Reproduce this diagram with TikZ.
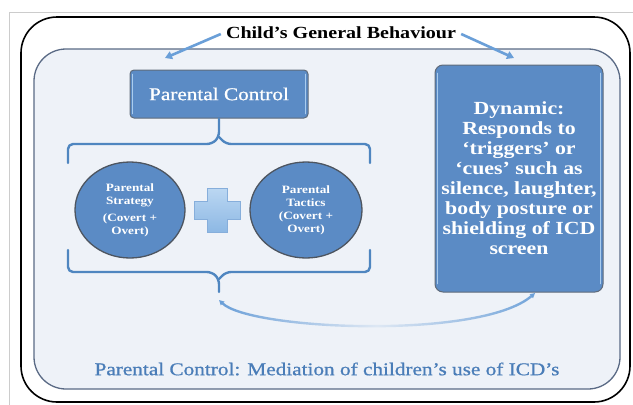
\documentclass[tikz,border=0pt]{standalone}
\usepackage{fontspec}
\setmainfont{Liberation Serif}
\newfontfamily\wserif[FakeStretch=1.18]{Liberation Serif}
\newfontfamily\wserifreg[FakeStretch=1.18,FakeBold=0.8]{Liberation Serif}
\usetikzlibrary{arrows.meta,fadings,shapes.geometric}
\definecolor{panelbg}{HTML}{EEF2F8}
\definecolor{panelline}{HTML}{5A6A85}
\definecolor{boxblue}{HTML}{5B8BC5}
\definecolor{boxline}{HTML}{5F6B7A}
\definecolor{boxhi}{HTML}{A9CCEE}
\definecolor{bracecol}{HTML}{4F86C0}
\definecolor{textblue}{HTML}{4A7DB8}
\definecolor{arrowblue}{HTML}{6A9FD8}
\definecolor{plustop}{HTML}{BBD7F2}
\definecolor{plusbot}{HTML}{8DB8E4}
\definecolor{plusline}{HTML}{86AEDB}
\definecolor{ellline}{HTML}{4D5560}
\tikzfading[name=midfade, left color=transparent!0, right color=transparent!5, middle color=transparent!88]
\begin{document}
\begin{tikzpicture}[x=1pt,y=-1pt,
  pcbox/.style={rectangle, rounded corners=4pt, fill=boxblue, draw=boxline, line width=1pt,
    text=white, inner sep=0pt},
  hiline/.style={draw=boxhi, line width=1.6pt, line cap=round},
  ellnode/.style={ellipse, fill=boxblue, draw=ellline, line width=1.3pt, text=white,
    inner sep=0pt, align=center, font=\wserif\bfseries\fontsize{11.2}{13}\selectfont},
  bracepath/.style={draw=bracecol, line width=2.4pt, line cap=round, line join=round, rounded corners=5pt},
  tarrow/.style={draw=arrowblue, line width=2.6pt, -{Triangle[length=7pt,width=8pt]}},
  conn/.style={draw=arrowblue, line width=2.4pt, path fading=midfade,
    {Triangle[length=5pt,width=5pt]}-{Triangle[length=5pt,width=5pt]}}
]
\useasboundingbox (0,0) rectangle (633,405);
% image frame
\draw[gray!40, line width=0.8pt] (9,405) -- (9,12) -- (633,12);
% outer and inner panels
\draw[line width=1.6pt, fill=white, rounded corners=36pt] (21,17) rectangle (630,402);
\draw[draw=panelline, line width=1.3pt, fill=panelbg, rounded corners=32pt] (34,49) rectangle (620,389);

% title
\node[font=\wserif\bfseries\fontsize{17}{20}\selectfont, inner sep=2pt] (title) at (341,33) {Child’s General Behaviour};
\coordinate (ta1) at (165,58);
\coordinate (ta2) at (514,58);
\draw[tarrow] ([xshift=-3pt,yshift=-1pt]title.west) -- (ta1);
\draw[tarrow] ([xshift=3pt,yshift=-1pt]title.east) -- (ta2);

% parental control box
\node[pcbox, minimum width=178pt, minimum height=48pt, font=\wserifreg\fontsize{18}{22}\selectfont] (pc) at (219,94) {Parental Control};
\draw[hiline] ([xshift=3pt,yshift=5pt]pc.south west) -- ([xshift=3pt,yshift=-5pt]pc.north west);
\draw[hiline] ([xshift=-3pt,yshift=5pt]pc.south east) -- ([xshift=-3pt,yshift=-5pt]pc.north east);

% dynamic box
\node[pcbox, rounded corners=8pt, minimum width=168pt, minimum height=227pt, align=center,
  font=\wserif\bfseries\fontsize{18.5}{20}\selectfont] (dyn) at (519,178.5)
  {Dynamic:\\Responds to\\‘triggers’ or\\‘cues’ such as\\silence, laughter,\\body posture or\\shielding of ICD\\screen};
\draw[hiline] ([xshift=3pt,yshift=9pt]dyn.south west) -- ([xshift=3pt,yshift=-9pt]dyn.north west);
\draw[hiline] ([xshift=-3pt,yshift=9pt]dyn.south east) -- ([xshift=-3pt,yshift=-9pt]dyn.north east);

% ellipses
\node[ellnode, minimum width=110pt, minimum height=96pt] (strat) at (130,210)
  {Parental\\Strategy\\[4pt](Covert +\\Overt)};
\node[ellnode, minimum width=112pt, minimum height=96pt] (tact) at (306,210)
  {Parental\\Tactics\\(Covert +\\Overt)};

% plus sign
\shade[top color=plustop, bottom color=plusbot, draw=plusline, line width=0.6pt]
  (207,188) -- (227,188) -- (227,201) -- (240,201) -- (240,219) -- (227,219) -- (227,232)
  -- (207,232) -- (207,219) -- (194,219) -- (194,201) -- (207,201) -- cycle;

% top brace
\draw[bracepath] (68,163) -- (68,144) -- (212,144) -- (219,137) -- (pc.south);
\draw[bracepath] (370,163) -- (370,144) -- (226,144) -- (219,137);
% bottom brace
\draw[bracepath] (68,250) -- (68,272) -- (212,272) -- (219,279) -- (219,292);
\draw[bracepath] (370,250) -- (370,272) -- (226,272) -- (219,279);

% curved connector
\coordinate (cs) at (219,300);
\coordinate (ce) at (535,293);
\draw[conn] (cs) .. controls (250,330) and (480,340) .. (ce);

% caption
\node[font=\wserifreg\fontsize{18}{22}\selectfont, text=textblue] (cap) at (327,369)
  {Parental Control: Mediation of children’s use of ICD’s};
\end{tikzpicture}
\end{document}
